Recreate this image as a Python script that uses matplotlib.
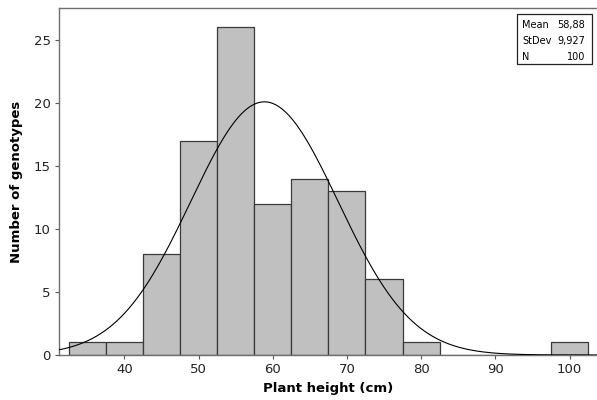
import numpy as np
import matplotlib.pyplot as plt

# histogram (bin midpoints, width 5)
bin_mids = [35, 40, 45, 50, 55, 60, 65, 70, 75, 80, 85, 90, 95, 100]
counts = [1, 1, 8, 17, 26, 12, 14, 13, 6, 1, 0, 0, 0, 1]
bin_width = 5

# summary stats shown in the box
mean_val = 58.88
sd_val = 9.927
n_val = 100

x_ticks = [40, 50, 60, 70, 80, 90, 100]
y_ticks = [0, 5, 10, 15, 20, 25]

fig = plt.figure(figsize=(5.97, 4.0), dpi=100)
ax = fig.add_axes([59 / 597, 45 / 400, 538 / 597, 347 / 400])

ax.bar(bin_mids, counts, width=bin_width, color='#c0c0c0',
       edgecolor='#3a3a3a', linewidth=0.9, zorder=2)

# fitted normal curve scaled to counts
xs = np.linspace(31.2, 103.7, 400)
ys = n_val * bin_width * np.exp(-0.5 * ((xs - mean_val) / sd_val) ** 2) / (sd_val * np.sqrt(2 * np.pi))
ax.plot(xs, ys, color='black', linewidth=0.8, zorder=3)

ax.set_xlim(31.2, 103.7)
ax.set_ylim(0, 27.54)
ax.set_xticks(x_ticks)
ax.set_yticks(y_ticks)
ax.tick_params(length=3, width=0.8, color='#555555', labelsize=9.5,
               labelcolor='#222222', pad=3)

for side in ['top', 'left', 'bottom']:
    ax.spines[side].set_color('#6e6e6e')
    ax.spines[side].set_linewidth(1.0)
ax.spines['right'].set_visible(False)

ax.set_xlabel('Plant height (cm)', fontsize=9.5, fontweight='bold', labelpad=4)
ax.set_ylabel('Number of genotypes', fontsize=9.5, fontweight='bold', labelpad=8)

# stats box
box_labels = ['Mean', 'StDev', 'N']
box_values = ['58,88', '9,927', '100']
fig.patches.append(plt.Rectangle((517 / 597, 1 - 64 / 400), 75 / 597, 50 / 400,
                                 transform=fig.transFigure, facecolor='white',
                                 edgecolor='#222222', linewidth=0.9, zorder=5))
for i, (lab, val) in enumerate(zip(box_labels, box_values)):
    y = 1 - (25 + 16 * i) / 400
    fig.text(522 / 597, y, lab, fontsize=7, va='center', ha='left', zorder=6)
    fig.text(585 / 597, y, val, fontsize=7, va='center', ha='right', zorder=6)

fig.savefig('out.png', dpi=100)
